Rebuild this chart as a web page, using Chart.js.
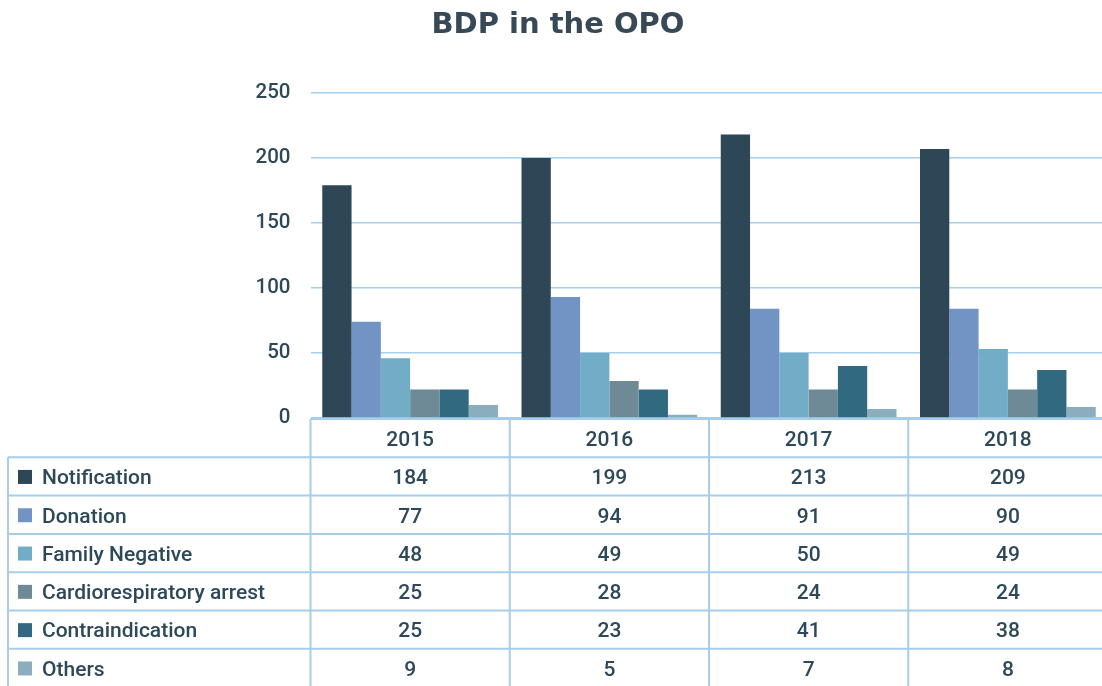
<!DOCTYPE html>
<html>
<head>
<meta charset="utf-8">
<script src="https://cdn.jsdelivr.net/npm/chart.js@4.4.0/dist/chart.umd.min.js"></script>
<style>
html,body{margin:0;padding:0;overflow:hidden;background:#ffffff;width:1102px;height:686px}
canvas{display:block}
</style>
</head>
<body>
<canvas id="c" width="1116" height="686" style="width:1116px;height:686px"></canvas>
<script>
// ---- data ----
const titleText = 'BDP in the OPO';
const categories = ['2015', '2016', '2017', '2018'];
const seriesNames = ['Notification', 'Donation', 'Family Negative', 'Cardiorespiratory arrest', 'Contraindication', 'Others'];

// bar heights
const notification = [179, 200, 218, 207];
const donation = [74, 93, 84, 84];
const familyNegative = [46, 50, 50, 53];
const cardiorespiratory = [22, 28.5, 22, 22];
const contraindication = [22, 22, 40, 37];
const others = [10, 2.5, 7, 8.5];

// values printed in the data table
const tableNotification = ['184', '199', '213', '209'];
const tableDonation = ['77', '94', '91', '90'];
const tableFamilyNegative = ['48', '49', '50', '49'];
const tableCardiorespiratory = ['25', '28', '24', '24'];
const tableContraindication = ['25', '23', '41', '38'];
const tableOthers = ['9', '5', '7', '8'];

const yMin = 0, yMax = 250, yStep = 50;

// ---- styles ----
const seriesColors = ['#2d4756', '#7194c5', '#72adc8', '#6e8a96', '#316a80', '#8aaebd'];
const textColor = '#2c4859';
const gridColor = '#a6cfec';
const tableLineColor = '#a7cdea';
const baseFont = 'Roboto, "Noto Sans", sans-serif';

const seriesValues = [notification, donation, familyNegative, cardiorespiratory, contraindication, others];
const tableValues = [tableNotification, tableDonation, tableFamilyNegative, tableCardiorespiratory, tableContraindication, tableOthers];

const datasets = seriesNames.map((name, i) => ({
  label: name,
  data: seriesValues[i],
  backgroundColor: seriesColors[i],
  borderWidth: 0,
  categoryPercentage: 0.882,
  barPercentage: 1.0
}));

const tablePlugin = {
  id: 'dataTable',
  afterDraw(chart) {
    const ctx = chart.ctx;
    const x = chart.scales.x;
    const ca = chart.chartArea;
    const n = categories.length;
    const colW = x.getPixelForValue(1) - x.getPixelForValue(0);
    const edges = [];
    for (let i = 0; i <= n; i++) edges.push(x.getPixelForValue(0) - colW / 2 + i * colW);
    const tableLeft = 8;
    const top = ca.bottom + 1;
    const rowH = 38.3;
    const rows = seriesNames.length + 1;

    ctx.save();
    ctx.strokeStyle = tableLineColor;
    ctx.lineWidth = 2;
    ctx.beginPath();
    ctx.moveTo(edges[0], top); ctx.lineTo(edges[n], top);
    for (let r = 1; r <= rows; r++) {
      const y = top + r * rowH;
      ctx.moveTo(tableLeft, y); ctx.lineTo(edges[n], y);
    }
    ctx.moveTo(tableLeft, top + rowH); ctx.lineTo(tableLeft, top + rows * rowH);
    for (let i = 0; i <= n; i++) {
      ctx.moveTo(edges[i], top); ctx.lineTo(edges[i], top + rows * rowH);
    }
    ctx.stroke();

    ctx.fillStyle = textColor;
    ctx.font = '500 21px ' + baseFont;
    ctx.textBaseline = 'middle';
    ctx.textAlign = 'center';
    for (let i = 0; i < n; i++) {
      ctx.fillText(categories[i], (edges[i] + edges[i + 1]) / 2, top + rowH / 2 + 2.5);
    }
    for (let s = 0; s < seriesNames.length; s++) {
      const cy = top + (s + 1) * rowH + rowH / 2;
      ctx.fillStyle = seriesColors[s];
      ctx.fillRect(18, cy - 6.5, 14, 14);
      ctx.fillStyle = textColor;
      ctx.textAlign = 'left';
      ctx.fillText(seriesNames[s], 42, cy + 2.5);
      ctx.textAlign = 'center';
      for (let i = 0; i < n; i++) {
        ctx.fillText(tableValues[s][i], (edges[i] + edges[i + 1]) / 2, cy + 2.5);
      }
    }
    ctx.restore();
  }
};

new Chart(document.getElementById('c'), {
  type: 'bar',
  data: { labels: categories, datasets },
  options: {
    responsive: false,
    animation: false,
    devicePixelRatio: 1,
    layout: { padding: { left: 8.5, right: 8.5, top: 0, bottom: 268 } },
    plugins: {
      legend: { display: false },
      tooltip: { enabled: false },
      title: {
        display: true,
        text: titleText,
        color: '#374857',
        font: { family: '"DejaVu Sans", sans-serif', size: 29, weight: 'bold', lineHeight: 1.2 },
        padding: { top: 8, bottom: 50.2 }
      }
    },
    scales: {
      x: { display: false, grid: { display: false } },
      y: {
        min: yMin, max: yMax,
        ticks: { stepSize: yStep, color: textColor, padding: 20, font: { family: baseFont, size: 20.5, weight: '500' } },
        grid: { color: gridColor, lineWidth: 1.5, drawTicks: false },
        border: { display: false },
        afterFit(scale) { scale.width = 302; }
      }
    }
  },
  plugins: [tablePlugin]
});
</script>
</body>
</html>
